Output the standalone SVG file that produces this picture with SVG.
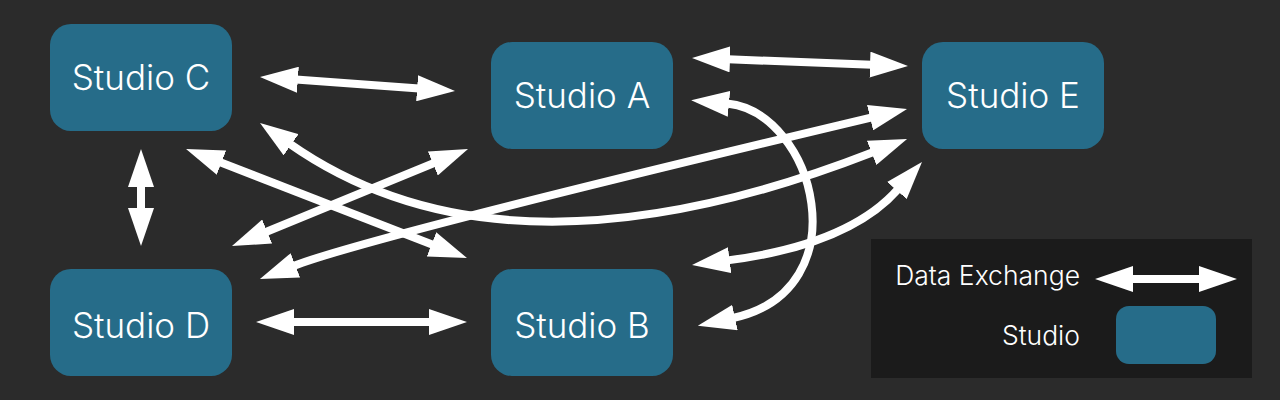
<svg xmlns="http://www.w3.org/2000/svg" width="1280" height="400" viewBox="0 0 1280 400">
  <style>
    .node rect { fill: #266c89; }
    .node text { fill: #ffffff; font-family: Inter, Lato, "Noto Sans", sans-serif; font-weight: 300; font-size: 35px; text-anchor: middle; }
    .edge { fill: none; stroke: #ffffff; stroke-width: 8; marker-start: url(#head); marker-end: url(#head); }
    .legend-text { fill: #ffffff; font-family: Inter, Lato, "Noto Sans", sans-serif; font-weight: 300; font-size: 26.5px; text-anchor: end; }
  </style>
  <defs>
    <marker id="head" markerUnits="userSpaceOnUse" viewBox="0 0 38 26" markerWidth="38" markerHeight="26" refX="2" refY="13" orient="auto-start-reverse">
      <polygon points="0,0 38,13 0,26" fill="#ffffff"/>
    </marker>
  </defs>
  <rect width="1280" height="400" fill="#2b2b2b"/>

  <g id="connectors">
    <path class="edge" d="M295.9,79.6 L419.1,88.4"/>
    <path class="edge" d="M728,59.3 L872,64.7"/>
    <path class="edge" d="M141,185 L141,210"/>
    <path class="edge" d="M292,322 L431,322"/>
    <path class="edge" d="M219.6,162 L433.4,245"/>
    <path class="edge" d="M265.3,232.3 L434.7,162.7"/>
    <path class="edge" d="M293.5,266 Q366.4,237.6 872,117.3"/>
    <path class="edge" d="M289.5,143.6 Q506,295.4 873.5,152.1"/>
    <path class="edge" d="M727,103.6 C815,112 862,290 733,318"/>
    <path class="edge" d="M727.7,260.4 Q849.3,244.6 898.2,189"/>
  </g>

  <g id="studio-c" class="node">
    <rect x="50" y="24" width="182" height="107" rx="21"/>
    <text x="141" y="90">Studio C</text>
  </g>
  <g id="studio-a" class="node">
    <rect x="491" y="42" width="182" height="107" rx="21"/>
    <text x="582" y="108">Studio A</text>
  </g>
  <g id="studio-e" class="node">
    <rect x="922" y="42" width="182" height="107" rx="21"/>
    <text x="1013" y="108">Studio E</text>
  </g>
  <g id="studio-d" class="node">
    <rect x="50" y="269" width="182" height="107" rx="21"/>
    <text x="141" y="338">Studio D</text>
  </g>
  <g id="studio-b" class="node">
    <rect x="491" y="269" width="182" height="107" rx="21"/>
    <text x="582" y="338">Studio B</text>
  </g>

  <g id="legend">
    <rect x="871" y="239" width="381" height="139" fill="#1b1b1b"/>
    <text class="legend-text" x="1080" y="285">Data Exchange</text>
    <path class="edge" d="M1131,279 L1201,279"/>
    <text class="legend-text" x="1080" y="345">Studio</text>
    <g class="node"><rect x="1116" y="306" width="100" height="58" rx="13"/></g>
  </g>
</svg>
